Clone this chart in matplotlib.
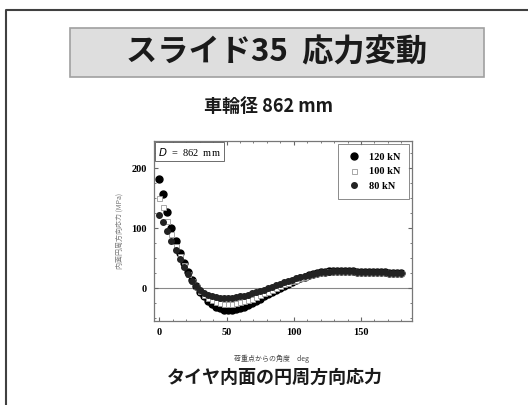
import numpy as np
import matplotlib.pyplot as plt
from matplotlib.patches import Rectangle
from matplotlib.lines import Line2D
from matplotlib.ticker import MultipleLocator

plt.rcParams['font.family'] = ['Noto Sans CJK JP', 'DejaVu Sans']

# 荷重点からの角度 (deg)
kakudo = np.arange(0, 181, 3)

# 内面円周方向応力 (MPa)
s120 = [182, 157, 127, 100, 78, 58, 41, 26, 13, 3, -6, -14, -21, -27, -31, -34,
        -36, -36, -36, -35, -33, -31, -28, -25, -22, -18, -14, -10, -7, -3, 0,
        4, 7, 10, 13, 16, 19, 21, 23, 25, 26, 27, 28, 28, 28, 28, 28, 28, 28,
        27, 27, 27, 27, 26, 26, 26, 26, 25, 25, 25, 25]
s100 = [150, 135, 112, 90, 70, 53, 38, 24, 12, 3, -5, -11, -16, -20, -23, -25,
        -26, -26, -26, -25, -24, -22, -20, -18, -15, -12, -9, -6, -3, 0, 3,
        6, 9, 12, 14, 17, 19, 21, 23, 25, 26, 27, 28, 28, 28, 28, 28, 28, 28,
        27, 27, 27, 27, 26, 26, 26, 26, 25, 25, 25, 25]
s80 = [122, 110, 95, 79, 63, 48, 35, 23, 12, 4, -3, -8, -11, -13, -15, -16,
       -16, -16, -16, -15, -14, -13, -11, -9, -7, -5, -3, 0, 2, 5, 7,
       10, 12, 14, 16, 18, 20, 22, 23, 25, 26, 27, 27, 28, 28, 28, 28, 28, 28,
       27, 27, 27, 27, 26, 26, 26, 26, 25, 25, 25, 25]

fig = plt.figure(figsize=(5.28, 4.05), dpi=100)

# スライドの枠
fig.add_artist(Line2D([6/528, 6/528, 1], [0, 1 - 10/405, 1 - 10/405],
                      transform=fig.transFigure, color='#404040', lw=1.5))

# タイトル
fig.add_artist(Rectangle((70/528, 1 - 77/405), 414/528, 49/405,
                         transform=fig.transFigure, facecolor='#dedede',
                         edgecolor='#a0a0a0', lw=1.2))
fig.text(277/528, 1 - 52/405, 'スライド35  応力変動', ha='center', va='center',
         fontsize=22.5, fontweight='bold', color='#1a1a1a')
fig.text(269/528, 1 - 106/405, '車輪径 862 mm', ha='center', va='center',
         fontsize=13, fontweight='bold', color='#1a1a1a')

ax = fig.add_axes([154/528, 1 - 321/405, 258/528, 180/405])
ax.axhline(0, color='#888888', lw=0.8, zorder=1)
ax.plot(kakudo, s120, 'o', ms=5, color='black', label='120 kN', zorder=3)
ax.plot(kakudo, s100, 's', ms=3.6, mfc='white', mec='#999999', mew=0.6,
        label='100 kN', zorder=4)
ax.plot(kakudo, s80, 'o', ms=4, color='#222222', label='80 kN', zorder=5)

ax.set_xlim(-4, 188)
ax.set_ylim(-55, 245)
ax.xaxis.set_major_locator(MultipleLocator(50))
ax.xaxis.set_minor_locator(MultipleLocator(10))
ax.yaxis.set_major_locator(MultipleLocator(100))
ax.yaxis.set_minor_locator(MultipleLocator(25))
ax.tick_params(which='both', direction='in', top=True, right=True,
               color='#666666')
ax.tick_params(which='major', length=3, labelsize=7.5, pad=5)
ax.tick_params(which='minor', length=1.5)
for lab in ax.get_xticklabels() + ax.get_yticklabels():
    lab.set_fontfamily('Liberation Serif')
    lab.set_fontweight('bold')
for sp in ax.spines.values():
    sp.set_color('#777777')
    sp.set_linewidth(0.9)

ax.text(0.015, 0.975, '$D$  =  862  mm', transform=ax.transAxes, ha='left',
        va='top', fontsize=7.5, family='Liberation Serif',
        bbox=dict(boxstyle='square,pad=0.3', fc='white', ec='#555555', lw=0.6))

leg = ax.legend(loc='upper right', prop={'family': 'Liberation Serif',
                                         'size': 7.5, 'weight': 'bold'},
                fancybox=False, edgecolor='#555555', handletextpad=0.8,
                borderpad=0.8, labelspacing=0.5, handlelength=1.4,
                borderaxespad=0.3)
leg.get_frame().set_linewidth(0.6)

ax.set_ylabel('内面円周方向応力 (MPa)', fontsize=5, color='#777777', labelpad=6)
fig.text(272/528, 1 - 359/405, '荷重点からの角度　deg', ha='center', va='center',
         fontsize=5, color='#444444')
fig.text(275/528, 1 - 377/405, 'タイヤ内面の円周方向応力', ha='center',
         va='center', fontsize=13, fontweight='bold', color='#1a1a1a')

fig.savefig('out.png', dpi=100)
